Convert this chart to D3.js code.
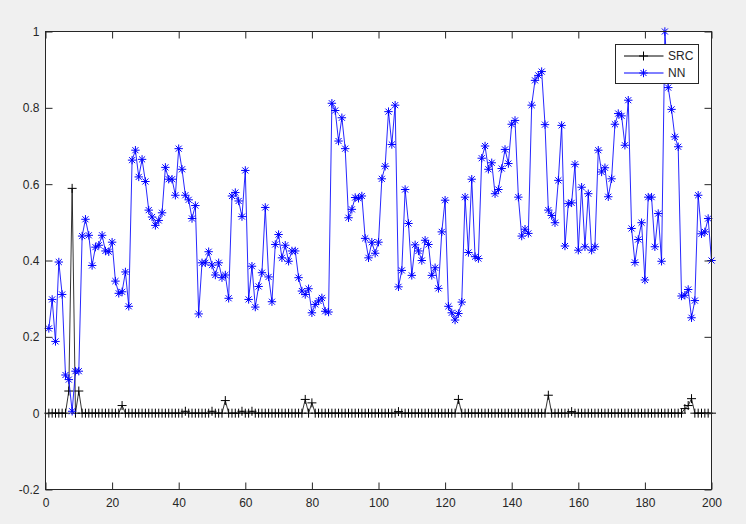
<!DOCTYPE html>
<html>
<head>
<meta charset="utf-8">
<script src="https://cdn.jsdelivr.net/npm/d3@7"></script>
<style>
  html, body { margin: 0; padding: 0; background: #f0f0f0; }
  svg { display: block; }
  text { font-family: "Liberation Sans", Arial, Helvetica, sans-serif; }
</style>
</head>
<body>
<svg id="chart" width="746" height="524"></svg>
<script>
// ---------------- data ----------------
const seriesNames = ["SRC", "NN"];

const nnValues = [
  0.222, 0.298, 0.188, 0.396, 0.311, 0.100, 0.088, 0.005, 0.110, 0.110,
  0.464, 0.508, 0.466, 0.387, 0.435, 0.440, 0.466, 0.425, 0.423, 0.448,
  0.346, 0.314, 0.318, 0.370, 0.280, 0.663, 0.689, 0.619, 0.665, 0.607,
  0.532, 0.514, 0.492, 0.505, 0.525, 0.644, 0.613, 0.613, 0.571, 0.693,
  0.639, 0.571, 0.559, 0.510, 0.544, 0.260, 0.394, 0.394, 0.423, 0.388,
  0.362, 0.394, 0.355, 0.362, 0.301, 0.569, 0.578, 0.556, 0.515, 0.636,
  0.298, 0.385, 0.278, 0.332, 0.368, 0.539, 0.357, 0.292, 0.442, 0.468,
  0.407, 0.440, 0.398, 0.425, 0.425, 0.355, 0.320, 0.311, 0.326, 0.263,
  0.285, 0.294, 0.302, 0.267, 0.265, 0.812, 0.793, 0.713, 0.774, 0.693,
  0.512, 0.534, 0.565, 0.563, 0.569, 0.458, 0.407, 0.448, 0.419, 0.448,
  0.614, 0.647, 0.790, 0.704, 0.807, 0.331, 0.374, 0.586, 0.497, 0.361,
  0.441, 0.425, 0.400, 0.453, 0.442, 0.361, 0.381, 0.327, 0.475, 0.558,
  0.280, 0.263, 0.244, 0.261, 0.291, 0.566, 0.421, 0.613, 0.410, 0.405,
  0.668, 0.700, 0.639, 0.656, 0.575, 0.586, 0.641, 0.691, 0.654, 0.757,
  0.767, 0.566, 0.464, 0.482, 0.471, 0.807, 0.872, 0.885, 0.895, 0.756,
  0.532, 0.518, 0.499, 0.610, 0.754, 0.438, 0.549, 0.551, 0.652, 0.427,
  0.592, 0.436, 0.575, 0.427, 0.436, 0.689, 0.632, 0.643, 0.567, 0.614,
  0.757, 0.785, 0.779, 0.702, 0.820, 0.484, 0.395, 0.455, 0.499, 0.349,
  0.566, 0.566, 0.436, 0.523, 0.398, 1.000, 0.853, 0.796, 0.724, 0.698,
  0.307, 0.309, 0.324, 0.250, 0.295, 0.571, 0.470, 0.475, 0.510, 0.400
];

const srcValues = [
  0, 0, 0, 0, 0, 0, 0.058, 0.589, 0, 0.058,
  0, 0, 0, 0, 0, 0, 0, 0, 0, 0,
  0, 0, 0.020, 0, 0, 0, 0, 0, 0, 0,
  0, 0, 0, 0, 0, 0, 0, 0, 0, 0,
  0, 0.005, 0, 0, 0, 0, 0, 0, 0, 0.005,
  0, 0, 0, 0.033, 0, 0, 0, 0, 0.005, 0,
  0, 0.005, 0, 0, 0, 0, 0, 0, 0, 0,
  0, 0, 0, 0, 0, 0, 0, 0.036, 0, 0.027,
  0, 0, 0, 0, 0, 0, 0, 0, 0, 0,
  0, 0, 0, 0, 0, 0, 0, 0, 0, 0,
  0, 0, 0, 0, 0, 0.004, 0, 0, 0, 0,
  0, 0, 0, 0, 0, 0, 0, 0, 0, 0,
  0, 0, 0, 0.036, 0, 0, 0, 0, 0, 0,
  0, 0, 0, 0, 0, 0, 0, 0, 0, 0,
  0, 0, 0, 0, 0, 0, 0, 0, 0, 0,
  0.047, 0, 0, 0, 0, 0, 0, 0.004, 0, 0,
  0, 0, 0, 0, 0, 0, 0, 0, 0, 0,
  0, 0, 0, 0, 0, 0, 0, 0, 0, 0,
  0, 0, 0, 0, 0, 0, 0, 0, 0, 0,
  0, 0.012, 0.020, 0.038, 0, 0, 0, 0, 0, 0
];

const xTickValues = [0, 20, 40, 60, 80, 100, 120, 140, 160, 180, 200];
const xTickLabels = ["0", "20", "40", "60", "80", "100", "120", "140", "160", "180", "200"];
const yTickValues = [-0.2, 0, 0.2, 0.4, 0.6, 0.8, 1];
const yTickLabels = ["-0.2", "0", "0.2", "0.4", "0.6", "0.8", "1"];

// ---------------- drawing ----------------
(function () {
const svg = d3.select("#chart");
const W = 746, H = 524;
const pL = 45.5, pR = 711.5, pT = 31.5, pB = 489.5;
const axisColor = "#262626";

svg.append("rect").attr("width", W).attr("height", H).attr("fill", "#f0f0f0");

const x = d3.scaleLinear().domain([0, 200]).range([pL, pR]);
const y = d3.scaleLinear().domain([-0.2, 1]).range([pB, pT]);

svg.append("rect")
  .attr("x", pL).attr("y", pT)
  .attr("width", pR - pL).attr("height", pB - pT)
  .attr("fill", "#ffffff");

const tickLen = 7;

svg.append("defs").append("clipPath").attr("id", "clip")
  .append("rect").attr("x", pL - 6).attr("y", pT - 6)
  .attr("width", pR - pL + 12).attr("height", pB - pT + 12);

const srcData = srcValues.map((v, i) => ({ i: i + 1, v }));
const nnData = nnValues.map((v, i) => ({ i: i + 1, v }));

const line = d3.line().x(d => x(d.i)).y(d => y(d.v));

const gData = svg.append("g").attr("clip-path", "url(#clip)");

gData.append("path").datum(srcData)
  .attr("d", line).attr("fill", "none")
  .attr("stroke", "#000000").attr("stroke-width", 0.8);

const plusPath = (s) => `M${-s},0H${s}M0,${-s}V${s}`;
const starPath = (s) => {
  const d = s * 0.72;
  return `M${-s},0H${s}M0,${-s}V${s}M${-d},${-d}L${d},${d}M${-d},${d}L${d},${-d}`;
};

gData.append("g").selectAll("path").data(srcData).join("path")
  .attr("transform", d => `translate(${x(d.i)},${y(d.v)})`)
  .attr("d", plusPath(4.5))
  .attr("fill", "none").attr("stroke", "#000000").attr("stroke-width", 1);

gData.append("path").datum(nnData)
  .attr("d", line).attr("fill", "none")
  .attr("stroke", "#0000ff").attr("stroke-width", 1).attr("stroke-opacity", 0.85);

gData.append("g").selectAll("path").data(nnData).join("path")
  .attr("transform", d => `translate(${x(d.i)},${y(d.v)})`)
  .attr("d", starPath(4.2))
  .attr("fill", "none").attr("stroke", "#0000ff").attr("stroke-width", 1);

function styleAxis(g) {
  g.select(".domain").remove();
  g.selectAll(".tick line").attr("stroke", axisColor).attr("stroke-width", 1);
  g.selectAll(".tick text").attr("fill", axisColor)
    .style("font-size", "12px")
    .style("font-family", "'Liberation Sans', Arial, Helvetica, sans-serif");
}

const xAxisB = d3.axisBottom(x).tickValues(xTickValues)
  .tickFormat((d, i) => xTickLabels[i]).tickSize(-tickLen).tickPadding(9);
svg.append("g").attr("transform", `translate(0,${pB})`).call(xAxisB).call(styleAxis);

const xAxisT = d3.axisTop(x).tickValues(xTickValues).tickFormat("").tickSize(-tickLen);
svg.append("g").attr("transform", `translate(0,${pT})`).call(xAxisT).call(styleAxis);

const yAxisL = d3.axisLeft(y).tickValues(yTickValues)
  .tickFormat((d, i) => yTickLabels[i]).tickSize(-tickLen).tickPadding(6);
svg.append("g").attr("transform", `translate(${pL},0)`).call(yAxisL).call(styleAxis);

const yAxisR = d3.axisRight(y).tickValues(yTickValues).tickFormat("").tickSize(-tickLen);
svg.append("g").attr("transform", `translate(${pR},0)`).call(yAxisR).call(styleAxis);

svg.append("rect")
  .attr("x", pL).attr("y", pT)
  .attr("width", pR - pL).attr("height", pB - pT)
  .attr("fill", "none").attr("stroke", axisColor).attr("stroke-width", 1);

const lg = svg.append("g");
const lx = 615.5, ly = 44.5, lw = 83, lh = 39;
lg.append("rect").attr("x", lx).attr("y", ly).attr("width", lw).attr("height", lh)
  .attr("fill", "#ffffff").attr("stroke", axisColor).attr("stroke-width", 1);

const legendItems = [
  { name: seriesNames[0], color: "#000000", marker: plusPath(4.5), yy: 56 },
  { name: seriesNames[1], color: "#0000ff", marker: starPath(4.2), yy: 73 }
];
legendItems.forEach(it => {
  lg.append("line").attr("x1", 624).attr("x2", 663.5)
    .attr("y1", it.yy).attr("y2", it.yy)
    .attr("stroke", it.color).attr("stroke-width", 1);
  lg.append("path").attr("transform", `translate(643.5,${it.yy})`)
    .attr("d", it.marker).attr("fill", "none")
    .attr("stroke", it.color).attr("stroke-width", 1);
  lg.append("text").attr("x", 668).attr("y", it.yy + 4.3)
    .attr("fill", axisColor).style("font-size", "12px").text(it.name);
});
})();
</script>
</body>
</html>
